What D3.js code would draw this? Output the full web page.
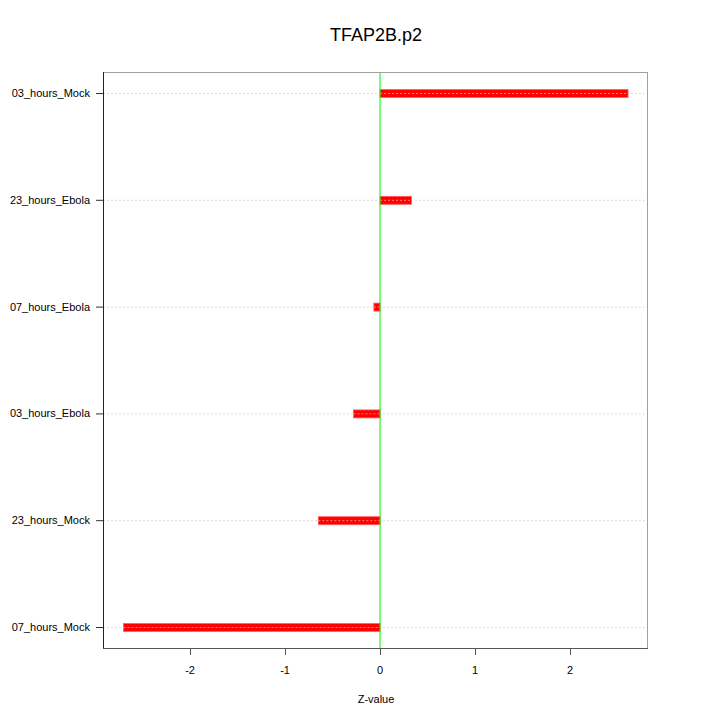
<!DOCTYPE html>
<html>
<head>
<meta charset="utf-8">
<script src="https://cdn.jsdelivr.net/npm/d3@7"></script>
<style>
  body { margin: 0; background: #fff; }
  text { font-family: "Liberation Sans", Arial, sans-serif; }
</style>
</head>
<body>
<div id="chart"></div>
<script>
// categories from top to bottom
var categories = ["03_hours_Mock", "23_hours_Ebola", "07_hours_Ebola", "03_hours_Ebola", "23_hours_Mock", "07_hours_Mock"];
var zValues = [2.61, 0.33, -0.065, -0.28, -0.65, -2.70];
var xTicks = [-2, -1, 0, 1, 2];

var width = 720,
    height = 720,
    plotLeft = 103,
    plotRight = 648,
    plotTop = 72,
    plotBottom = 648;

var svg = d3.select("#chart").append("svg")
            .attr("width", width)
            .attr("height", height);

var x = d3.scaleLinear()
          .domain([-2.916, 2.82])
          .range([plotLeft, plotRight]);

var y = d3.scalePoint()
          .domain(categories)
          .range([93, 627]);

// grid lines
svg.selectAll(".grid")
   .data(categories)
   .enter()
   .append("line")
   .attr("class", "grid")
   .attr("x1", plotLeft)
   .attr("x2", plotRight)
   .attr("y1", function(d) {return y(d) + 0.5; })
   .attr("y2", function(d) {return y(d) + 0.5; })
   .style("stroke", "#dcdcdc")
   .style("stroke-width", 1)
   .style("stroke-dasharray", "2,2");

// bars
var barHeight = 8;
svg.selectAll(".bar")
   .data(zValues)
   .enter()
   .append("rect")
   .attr("class", "bar")
   .attr("x", function(d) {return Math.min(x(0), x(d)); })
   .attr("y", function(d, i) {return y(categories[i]) - barHeight / 2 + 0.5; })
   .attr("width", function(d) {return Math.abs(x(d) - x(0)); })
   .attr("height", barHeight)
   .style("fill", "#ff0000")
   .style("stroke", "#ff6060")
   .style("stroke-width", 0.8);

// dotted line over the bars
svg.selectAll(".barLine")
   .data(zValues)
   .enter()
   .append("line")
   .attr("class", "barLine")
   .attr("x1", function(d) {return Math.min(x(0), x(d)); })
   .attr("x2", function(d) {return Math.max(x(0), x(d)); })
   .attr("y1", function(d, i) {return y(categories[i]) + 0.5; })
   .attr("y2", function(d, i) {return y(categories[i]) + 0.5; })
   .style("stroke", "#ff8080")
   .style("stroke-width", 1)
   .style("stroke-dasharray", "2,2");

// zero line
svg.append("line")
   .attr("x1", x(0))
   .attr("x2", x(0))
   .attr("y1", plotTop)
   .attr("y2", plotBottom)
   .style("stroke", "#00ee00")
   .style("stroke-width", 1);

// frame
svg.append("line").attr("x1", plotLeft).attr("x2", plotRight).attr("y1", plotTop + 0.5).attr("y2", plotTop + 0.5)
   .style("stroke", "#a0a0a0");
svg.append("line").attr("x1", plotRight - 0.5).attr("x2", plotRight - 0.5).attr("y1", plotTop).attr("y2", plotBottom)
   .style("stroke", "#a0a0a0");
svg.append("line").attr("x1", plotLeft + 0.5).attr("x2", plotLeft + 0.5).attr("y1", plotTop).attr("y2", plotBottom)
   .style("stroke", "#222");
svg.append("line").attr("x1", plotLeft).attr("x2", plotRight).attr("y1", plotBottom + 0.5).attr("y2", plotBottom + 0.5)
   .style("stroke", "#555");

// x axis ticks and labels
var xAxis = svg.append("g");
xAxis.selectAll(".xtick")
     .data(xTicks)
     .enter()
     .append("line")
     .attr("x1", function(d) {return Math.round(x(d)) + 0.5; })
     .attr("x2", function(d) {return Math.round(x(d)) + 0.5; })
     .attr("y1", plotBottom)
     .attr("y2", plotBottom + 7)
     .style("stroke", "#555");
xAxis.selectAll(".xlabel")
     .data(xTicks)
     .enter()
     .append("text")
     .attr("x", function(d) {return x(d); })
     .attr("y", 674)
     .attr("text-anchor", "middle")
     .style("font-size", "11px")
     .text(function(d) {return d; });

// y axis ticks and labels
var yAxis = svg.append("g");
yAxis.selectAll(".ytick")
     .data(categories)
     .enter()
     .append("line")
     .attr("x1", 96)
     .attr("x2", plotLeft)
     .attr("y1", function(d) {return y(d) + 0.5; })
     .attr("y2", function(d) {return y(d) + 0.5; })
     .style("stroke", "#333");
yAxis.selectAll(".ylabel")
     .data(categories)
     .enter()
     .append("text")
     .attr("x", 90)
     .attr("y", function(d) {return y(d) + 4; })
     .attr("text-anchor", "end")
     .style("font-size", "11px")
     .text(function(d) {return d; });

// titles
svg.append("text")
   .attr("x", 376)
   .attr("y", 41)
   .attr("text-anchor", "middle")
   .style("font-size", "18px")
   .text("TFAP2B.p2");

svg.append("text")
   .attr("x", 376)
   .attr("y", 703)
   .attr("text-anchor", "middle")
   .style("font-size", "11px")
   .text("Z-value");
</script>
</body>
</html>
